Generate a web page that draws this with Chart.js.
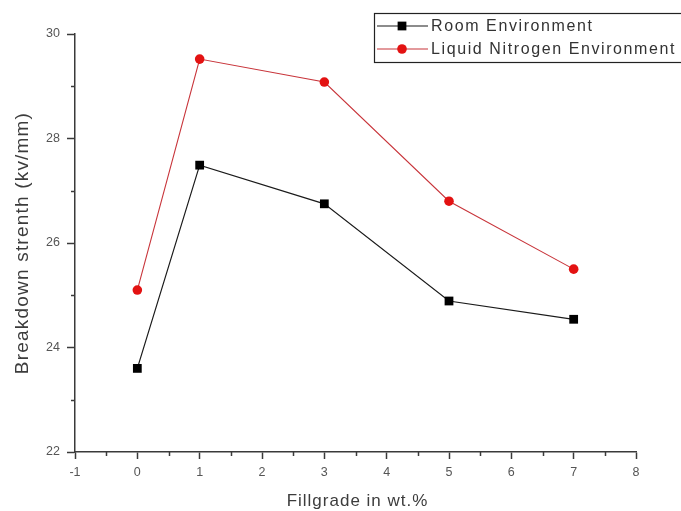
<!DOCTYPE html>
<html>
<head>
<meta charset="utf-8">
<script src="https://cdn.jsdelivr.net/npm/chart.js@4"></script>
<style>
  html, body { margin: 0; padding: 0; background: #fff; }
  #wrap { width: 681px; height: 511px; }
</style>
</head>
<body>
<div id="wrap"><canvas id="c" width="681" height="511"></canvas></div>
<script>
// Fill grade (wt.%) on the x axis
const fillgrade = [0, 1, 3, 5, 7];
// Breakdown strength, kV/mm
const roomEnv = [23.6, 27.49, 26.75, 24.89, 24.54];
const nitrogenEnv = [25.1, 29.52, 29.08, 26.8, 25.5];
const seriesNames = ['Room Environment', 'Liquid Nitrogen Environment'];
const xTicks = [-1, 0, 1, 2, 3, 4, 5, 6, 7, 8];
const yTicks = [22, 24, 26, 28, 30];
const xTitle = 'Fillgrade in wt.%';
const yTitle = 'Breakdown strenth (kv/mm)';

const FONT = '"Liberation Sans", Arial, sans-serif';
const AXIS = '#3a3a3a';

const toPoints = (xs, ys) => xs.map((x, i) => ({ x, y: ys[i] }));

// Minor ticks, axis titles and the boxed legend
const decor = {
  id: 'decor',
  afterDraw(chart) {
    const { ctx, chartArea: a, scales: { x, y } } = chart;
    ctx.save();
    ctx.strokeStyle = AXIS;
    ctx.lineWidth = 1.5;
    // minor ticks
    for (let v = -0.5; v < 8; v += 1) {
      const px = Math.round(x.getPixelForValue(v)) + 0.5;
      ctx.beginPath(); ctx.moveTo(px, a.bottom); ctx.lineTo(px, a.bottom + 4); ctx.stroke();
    }
    for (let v = 23; v < 30; v += 2) {
      const py = Math.round(y.getPixelForValue(v)) + 0.5;
      ctx.beginPath(); ctx.moveTo(a.left, py); ctx.lineTo(a.left - 4, py); ctx.stroke();
    }
    // axis titles
    ctx.fillStyle = '#3c3c3c';
    ctx.textAlign = 'center';
    ctx.textBaseline = 'middle';
    if ('letterSpacing' in ctx) ctx.letterSpacing = '1px';
    ctx.font = '17px ' + FONT;
    ctx.fillText(xTitle, (a.left + a.right) / 2 + 2, 501);
    ctx.translate(23, 243);
    ctx.rotate(-Math.PI / 2);
    if ('letterSpacing' in ctx) ctx.letterSpacing = '1.2px';
    ctx.font = '19px ' + FONT;
    ctx.fillText(yTitle, 0, 0);
    ctx.restore();

    // legend
    ctx.save();
    const bx = 374.5, by = 13.5, bw = 320, bh = 49;
    ctx.strokeStyle = '#222';
    ctx.lineWidth = 1.2;
    ctx.strokeRect(bx, by, bw, bh);
    ctx.font = '16px ' + FONT;
    ctx.textAlign = 'left';
    ctx.textBaseline = 'middle';
    chart.data.datasets.forEach((ds, i) => {
      const ly = 26 + i * 23;
      ctx.strokeStyle = ds.borderColor;
      ctx.lineWidth = 1.2;
      ctx.beginPath(); ctx.moveTo(377, ly); ctx.lineTo(428, ly); ctx.stroke();
      ctx.fillStyle = ds.pointBackgroundColor;
      ctx.beginPath();
      if (ds.pointStyle === 'rect') {
        const s = ds.pointRadius * Math.SQRT1_2;
        ctx.rect(402 - s, ly - s, 2 * s, 2 * s);
      } else {
        ctx.arc(402, ly, ds.pointRadius, 0, Math.PI * 2);
      }
      ctx.fill();
      ctx.fillStyle = '#333';
      if ('letterSpacing' in ctx) ctx.letterSpacing = '1.6px';
      ctx.fillText(ds.label, 431, ly + 1);
    });
    ctx.restore();
  }
};

new Chart(document.getElementById('c'), {
  type: 'line',
  data: {
    datasets: [
      {
        label: seriesNames[0],
        data: toPoints(fillgrade, roomEnv),
        borderColor: '#1a1a1a',
        backgroundColor: '#000',
        borderWidth: 1.2,
        pointStyle: 'rect',
        pointRadius: 6.2,
        pointBackgroundColor: '#000',
        pointBorderColor: '#000',
        pointBorderWidth: 0,
        tension: 0
      },
      {
        label: seriesNames[1],
        data: toPoints(fillgrade, nitrogenEnv),
        borderColor: '#c8343a',
        backgroundColor: '#e00000',
        borderWidth: 1.1,
        pointStyle: 'circle',
        pointRadius: 4.8,
        pointBackgroundColor: '#e31212',
        pointBorderColor: '#e31212',
        pointBorderWidth: 0,
        tension: 0
      }
    ]
  },
  options: {
    responsive: false,
    animation: false,
    layout: { padding: { left: 0, top: 34, right: 45, bottom: 0 } },
    plugins: { legend: { display: false }, tooltip: { enabled: false } },
    scales: {
      x: {
        type: 'linear',
        min: -1, max: 8,
        afterFit: s => { s.height = 59; },
        afterBuildTicks: s => { s.ticks = xTicks.map(v => ({ value: v })); },
        ticks: {
          color: '#555', font: { family: FONT, size: 12.5 }, padding: 6,
          callback: v => String(v)
        },
        grid: { drawOnChartArea: false, drawTicks: true, tickLength: 7, tickColor: AXIS, tickWidth: 1.5 },
        border: { display: true, color: AXIS, width: 1.5 }
      },
      y: {
        type: 'linear',
        min: 22, max: 30,
        afterFit: s => { s.width = 75; },
        afterBuildTicks: s => { s.ticks = yTicks.map(v => ({ value: v })); },
        ticks: {
          color: '#555', font: { family: FONT, size: 12.5 }, padding: 7,
          callback: v => String(v)
        },
        grid: { drawOnChartArea: false, drawTicks: true, tickLength: 8, tickColor: AXIS, tickWidth: 1.5 },
        border: { display: true, color: AXIS, width: 1.5 }
      }
    }
  },
  plugins: [decor]
});
</script>
</body>
</html>
